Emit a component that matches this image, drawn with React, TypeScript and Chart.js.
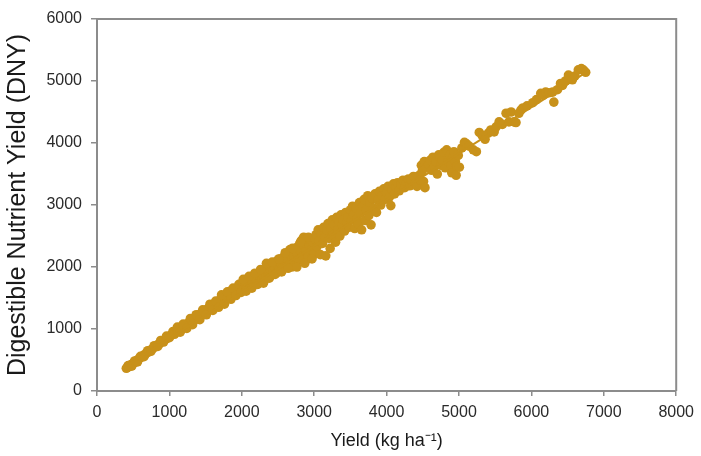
import { useEffect, useRef } from "react";
import { Chart, registerables } from "chart.js";

Chart.register(...registerables);

// Yield (kg/ha) vs Digestible Nutrient Yield, [yield, dny]
const lowYieldPoints: [number, number][] = [
  [405, 366], [420, 379], [445, 398], [470, 426], [510, 455], [545, 490], [570, 508],
  [590, 530], [615, 546], [640, 574], [665, 590], [690, 618], [710, 628], [735, 657],
  [760, 672], [785, 700], [810, 715], [830, 740], [855, 754], [880, 783], [905, 798],
  [930, 826], [955, 840], [980, 870], [1005, 884], [1030, 914], [1055, 928], [1080, 956],
  [430, 410], [480, 400], [520, 485], [560, 470], [600, 560], [650, 555], [700, 650],
  [745, 640], [790, 730], [840, 720], [880, 815], [920, 790], [960, 885], [1000, 860],
  [1050, 960], [1070, 915],
];

const midYieldPoints: [number, number][] = [
  [1105, 990], [1120, 955], [1140, 1010], [1160, 985], [1175, 1040], [1195, 1020],
  [1210, 1065], [1230, 1040], [1245, 1085], [1265, 1065], [1280, 1120], [1300, 1100],
  [1310, 1155], [1330, 1130], [1345, 1175], [1365, 1155], [1380, 1200], [1400, 1180],
  [1415, 1235], [1430, 1210], [1450, 1260], [1465, 1235], [1480, 1290], [1500, 1265],
  [1515, 1315], [1530, 1290], [1550, 1340], [1570, 1320], [1585, 1375], [1600, 1345],
  [1620, 1395], [1640, 1370], [1655, 1430], [1670, 1410], [1690, 1460], [1710, 1430],
  [1720, 1510], [1735, 1470], [1755, 1450], [1770, 1500], [1790, 1530], [1805, 1490],
  [1820, 1560], [1840, 1610], [1855, 1540], [1870, 1590], [1890, 1570], [1905, 1630],
  [1920, 1600], [1940, 1660], [1955, 1590], [1970, 1640], [1985, 1700], [2000, 1650],
  [1110, 1030], [1150, 950], [1190, 1080], [1240, 1010], [1290, 1170], [1320, 1070],
  [1370, 1230], [1420, 1150], [1460, 1310], [1510, 1230], [1560, 1400], [1600, 1300],
  [1640, 1450], [1680, 1350], [1720, 1550], [1760, 1400], [1800, 1600], [1850, 1480],
  [1880, 1660], [1920, 1540], [1960, 1720], [1990, 1590],
];

const upperMidYieldPoints: [number, number][] = [
  [2015, 1720], [2030, 1680], [2040, 1750], [2055, 1700], [2065, 1650], [2080, 1740],
  [2095, 1780], [2110, 1720], [2120, 1680], [2135, 1770], [2150, 1820], [2160, 1750],
  [2175, 1720], [2190, 1800], [2205, 1855], [2215, 1780], [2230, 1880], [2240, 1760],
  [2255, 1830], [2270, 1910], [2280, 1800], [2295, 1870], [2310, 1780], [2320, 1940],
  [2335, 1860], [2350, 2040], [2360, 1910], [2375, 1850], [2390, 1960], [2400, 2010],
  [2415, 1870], [2430, 1930], [2445, 2070], [2460, 1990], [2475, 1900], [2490, 2100],
  [2500, 2020], [2515, 1950], [2530, 2130], [2545, 2050], [2560, 1980], [2575, 2160],
  [2590, 2090], [2605, 2000], [2620, 2200], [2635, 2120], [2650, 2030], [2665, 2280],
  [2680, 2180], [2690, 2000], [2705, 2240], [2720, 2150], [2735, 2070], [2750, 2310],
  [2765, 2220], [2780, 2120], [2795, 2360], [2810, 2270], [2825, 2430], [2840, 2180],
  [2855, 2480], [2870, 2320], [2885, 2250], [2900, 2400], [2915, 2150], [2930, 2350],
  [2945, 2440], [2960, 2280], [2980, 2400], [2995, 2200],
  [2020, 1800], [2060, 1610], [2100, 1850], [2140, 1660], [2180, 1900], [2220, 1720],
  [2260, 1960], [2300, 1740], [2340, 2060], [2380, 1820], [2420, 2080], [2460, 1880],
  [2510, 2130], [2550, 1920], [2600, 2230], [2640, 1980], [2700, 2300], [2760, 2000],
  [2810, 2400], [2870, 2060], [2920, 2480], [2970, 2130],
];

const highYieldPoints: [number, number][] = [
  [3010, 2450], [3025, 2520], [3040, 2330], [3055, 2600], [3070, 2420], [3085, 2200],
  [3100, 2540], [3115, 2380], [3130, 2640], [3145, 2480], [3160, 2180], [3175, 2590],
  [3190, 2700], [3205, 2460], [3220, 2300], [3235, 2620], [3250, 2760], [3265, 2520],
  [3280, 2680], [3295, 2400], [3310, 2800], [3325, 2600], [3340, 2720], [3355, 2500],
  [3370, 2840], [3385, 2680], [3400, 2760], [3420, 2580], [3435, 2880], [3450, 2720],
  [3465, 2800], [3480, 2640], [3500, 2920], [3515, 2760], [3530, 2980], [3545, 2850],
  [3560, 2620], [3580, 2950], [3595, 2780], [3610, 2690], [3625, 3040], [3640, 2870],
  [3655, 2600], [3670, 2980], [3690, 3090], [3705, 2750], [3720, 2920], [3740, 3150],
  [3755, 2830], [3770, 3040], [3785, 2680], [3800, 3110], [3820, 2950], [3840, 3180],
  [3860, 2880], [3880, 3080], [3900, 3220], [3920, 3000], [3940, 3150], [3960, 3260],
  [3980, 3090], [4000, 3200], [4020, 3300], [4040, 3130], [4058, 2990], [4075, 3250],
  [4095, 3340], [4110, 3180], [4130, 3290], [4150, 3360], [4175, 3230], [4200, 3330],
  [4225, 3400], [4250, 3280], [4275, 3360], [4300, 3420], [4320, 3310], [4345, 3400],
  [4370, 3460], [4395, 3350], [4420, 3300], [4440, 3470], [4465, 3400], [4480, 3640],
  [4490, 3540], [4510, 3380], [4520, 3700], [4530, 3280], [4550, 3600],
];

const topYieldPoints: [number, number][] = [
  [4580, 3650], [4600, 3720], [4620, 3560], [4640, 3770], [4660, 3620], [4680, 3700],
  [4700, 3500], [4720, 3810], [4735, 3760], [4750, 3640], [4770, 3720], [4790, 3850],
  [4810, 3600], [4830, 3890], [4850, 3700], [4870, 3800], [4890, 3640], [4900, 3520],
  [4910, 3760], [4930, 3860], [4950, 3700], [4960, 3480], [4970, 3620], [4990, 3800],
  [5005, 3610], [5040, 3920], [5075, 4010], [5100, 3990], [5140, 3950], [5198, 3890],
  [5240, 3860], [5280, 4170], [5320, 4120], [5360, 4060], [5404, 4160], [5440, 4210],
  [5486, 4180], [5513, 4260], [5554, 4340], [5600, 4300], [5650, 4480], [5690, 4340],
  [5720, 4500], [5759, 4340], [5787, 4330], [5828, 4480], [5855, 4530], [5882, 4565],
  [5940, 4600], [6019, 4650], [6070, 4700], [6129, 4800], [6160, 4770], [6197, 4820],
  [6240, 4810], [6293, 4820], [6310, 4660], [6360, 4860], [6402, 4960], [6430, 4930],
  [6470, 5000], [6512, 5095], [6566, 5020], [6600, 5080], [6648, 5180], [6690, 5200],
  [6720, 5175], [6750, 5140],
];

// fitted regression line end points
const fitYield = [400, 6770];
const fitDny = [400, 5150];

const xTickValues = [0, 1000, 2000, 3000, 4000, 5000, 6000, 7000, 8000];
const yTickValues = [0, 1000, 2000, 3000, 4000, 5000, 6000];

const xTitle = "Yield (kg ha\u207B\u00B9)";
const yTitle = "Digestible Nutrient Yield (DNY)";

const GOLD = "#C8911A";
const AXIS = "#8c8c8c";
const FONT = "'Liberation Sans', Arial, Helvetica, sans-serif";

const framePlugin = {
  id: "frame",
  beforeDatasetsDraw(chart: any) {
    const { ctx, chartArea } = chart;
    const { left, top, right, bottom } = chartArea;
    ctx.save();
    ctx.strokeStyle = AXIS;
    ctx.lineWidth = 2;
    ctx.beginPath();
    ctx.moveTo(left, top);
    ctx.lineTo(right, top);
    ctx.lineTo(right, bottom);
    ctx.stroke();
    ctx.restore();
  },
};

export default function App() {
  const ref = useRef<HTMLCanvasElement | null>(null);

  useEffect(() => {
    if (!ref.current) return;
    const all = [
      ...lowYieldPoints,
      ...midYieldPoints,
      ...upperMidYieldPoints,
      ...highYieldPoints,
      ...topYieldPoints,
    ];
    const chart = new Chart(ref.current, {
      type: "scatter",
      data: {
        datasets: [
          {
            type: "line",
            label: "fit",
            data: fitYield.map((x, i) => ({ x, y: fitDny[i] })),
            borderColor: GOLD,
            borderWidth: 2,
            pointRadius: 0,
            fill: false,
          } as any,
          {
            label: "DNY",
            data: all.map(([x, y]) => ({ x, y })),
            backgroundColor: GOLD,
            borderColor: GOLD,
            borderWidth: 0,
            pointRadius: 4.8,
            pointHoverRadius: 4.8,
          },
        ],
      },
      options: {
        animation: false,
        responsive: false,
        events: [],
        layout: { padding: { top: 19, right: 19, left: 0, bottom: 0 } },
        plugins: {
          legend: { display: false },
          tooltip: { enabled: false },
        },
        scales: {
          x: {
            type: "linear",
            min: 0,
            max: 8000,
            afterFit: (s: any) => {
              s.height = 65;
            },
            afterBuildTicks: (s: any) => {
              s.ticks = xTickValues.map((v) => ({ value: v }));
            },
            border: { display: true, color: AXIS, width: 2 },
            grid: {
              drawOnChartArea: false,
              drawTicks: true,
              tickLength: 5,
              color: AXIS,
              lineWidth: 1.5,
            },
            ticks: {
              color: "#2a2a2a",
              padding: 7,
              maxRotation: 0,
              font: { family: FONT, size: 16 },
              callback: (v: any) => String(v),
            },
            title: {
              display: true,
              text: xTitle,
              color: "#1a1a1a",
              font: { family: FONT, size: 18 },
              padding: { top: 0, bottom: 4 },
            },
          },
          y: {
            type: "linear",
            min: 0,
            max: 6000,
            afterFit: (s: any) => {
              s.width = 97;
            },
            afterBuildTicks: (s: any) => {
              s.ticks = yTickValues.map((v) => ({ value: v }));
            },
            border: { display: true, color: AXIS, width: 2 },
            grid: {
              drawOnChartArea: false,
              drawTicks: true,
              tickLength: 6,
              color: AXIS,
              lineWidth: 1.5,
            },
            ticks: {
              color: "#2a2a2a",
              padding: 9,
              font: { family: FONT, size: 16 },
              callback: (v: any) => String(v),
            },
            title: {
              display: true,
              text: yTitle,
              color: "#1a1a1a",
              font: { family: FONT, size: 25 },
              padding: { top: 3, bottom: 0 },
            },
          },
        },
      },
      plugins: [framePlugin],
    });
    return () => chart.destroy();
  }, []);

  return (
    <div style={{ position: "fixed", left: 0, top: 0, width: 701, height: 456, background: "#fff" }}>
      <canvas ref={ref} width={701} height={456} style={{ display: "block" }} />
    </div>
  );
}
